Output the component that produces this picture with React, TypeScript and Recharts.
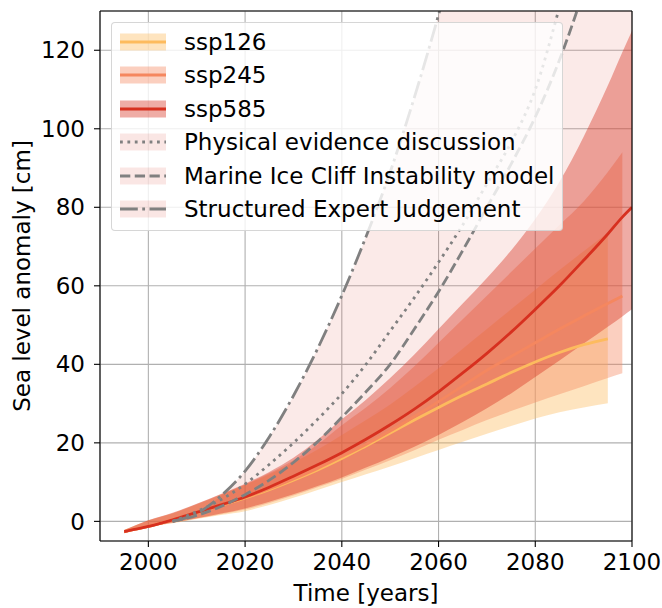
import React from 'react';
import { ComposedChart, Area, Line, XAxis, YAxis, CartesianGrid, ReferenceLine, Label } from 'recharts';

const FONT = "'DejaVu Sans', 'Liberation Sans', sans-serif";
const FS = 23;

const years = [1995, 2000, 2005, 2010, 2015, 2020, 2025, 2030, 2035, 2040, 2045, 2050, 2055, 2060, 2065, 2070, 2075, 2080, 2085, 2090, 2095, 2098, 2100];

const ssp126Median = [-2.6, -1.3, 0.4, 2.2, 4.1, 6, 8.1, 10.5, 13.1, 16, 19.2, 22.5, 25.8, 29, 32.1, 35, 37.9, 40.6, 43, 45, 46.5, null, null];
const ssp126Low = [-3, -1.4, -0.5, 0.6, 1.6, 2.6, 4.2, 6, 8, 10, 12, 14, 16.1, 18.2, 20.3, 22.3, 24.3, 26.2, 27.8, 29, 30.1, null, null];
const ssp126High = [-2.2, 0.2, 2, 4.3, 6.7, 9.3, 12, 15, 18.3, 22, 25.8, 29.8, 34.3, 39, 44, 49, 54, 59, 64, 68.8, 73.5, null, null];

const ssp245Median = [-2.6, -1.3, 0.4, 2.2, 4.1, 6.1, 8.3, 10.8, 13.5, 16.5, 19.6, 23, 26.7, 30.5, 34.5, 38.5, 42, 45.5, 49, 52.3, 55.5, 57.4, null];
const ssp245Low = [-3, -1.4, -0.4, 0.7, 1.8, 3, 4.7, 6.6, 8.7, 10.8, 13.2, 15.6, 18.1, 20.8, 23.3, 25.8, 28.1, 30.3, 32.4, 34.4, 36.5, 37.7, null];
const ssp245High = [-2.2, 0.3, 2.1, 4.4, 6.9, 9.4, 12.3, 15.6, 19.6, 24.5, 29, 34, 39.5, 45.5, 51.5, 57.5, 63.5, 69.5, 75.5, 81.5, 89, 94, null];

const ssp585Median = [-2.6, -1.3, 0.4, 2.3, 4.2, 6.2, 8.7, 11.5, 14.4, 17.5, 20.9, 24.6, 28.6, 33, 37.8, 42.8, 48.2, 54, 60, 66.5, 73.2, 77.5, 80];
const ssp585Low = [-3, -1.4, -0.3, 0.8, 2, 3.3, 5, 6.9, 9, 11.2, 13.7, 16.3, 19, 22, 25.3, 28.8, 32.6, 36.8, 41, 45.3, 49.6, 52.2, 54];
const ssp585High = [-2.2, 0.3, 2.2, 4.5, 7, 9.6, 12.6, 16.2, 20.8, 26, 31, 36.5, 42.5, 49, 55.5, 62, 69, 77, 86.5, 98, 111, 119.5, 125];

const physicalEvidence = [null, null, 0, 2.5, 5.5, 9.5, 14.5, 20, 26, 32.5, 40, 48.5, 57, 66, 75.5, 86, 96.5, 110, 131, 155, null, null, null];
const miciModel = [null, null, 0, 1.5, 3.8, 6.8, 10.5, 15, 20.3, 26.5, 33, 40, 49, 58.5, 69, 80, 91, 103, 117.5, 135, null, null, null];
const expertJudgement = [null, null, 0, 2, 6.5, 12.8, 21.5, 32, 44, 57.5, 72.5, 89, 108, 129, 152, null, null, null, null, null, null, null, null];
const expertRangeLow = [null, null, 0, 2.2, 4.2, 6.3, 8.7, 11.5, 14.4, 17.5, 20.9, 24.6, 28.6, 33, 37.8, 42.8, 48.2, 54, 60, 66.5, 73.2, 77.5, 80];
const expertRangeHigh = [null, null, 0, 2, 6.5, 12.8, 21.5, 32, 44, 57.5, 72.5, 89, 108, 129, 152, 175, 200, 200, 200, 200, 200, 200, 200];

const xTicks = [2000, 2020, 2040, 2060, 2080, 2100];
const yTicks = [0, 20, 40, 60, 80, 100, 120];

const C126 = '#fdbb5e';
const C245 = '#f5875f';
const C585 = '#d7301f';
const GRAY = '#808080';

const band = (lo: (number | null)[], hi: (number | null)[], i: number) =>
  lo[i] == null || hi[i] == null ? null : [lo[i], hi[i]];

const data = years.map((year, i) => ({
  year,
  ssp126: ssp126Median[i],
  ssp245: ssp245Median[i],
  ssp585: ssp585Median[i],
  ssp126Band: band(ssp126Low, ssp126High, i),
  ssp245Band: band(ssp245Low, ssp245High, i),
  ssp585Band: band(ssp585Low, ssp585High, i),
  expertBand: band(expertRangeLow, expertRangeHigh, i),
  physical: physicalEvidence[i],
  mici: miciModel[i],
  sej: expertJudgement[i],
}));

const legendItems = [
  { label: 'ssp126', line: C126, fill: C126, opacity: 0.4, dash: undefined as string | undefined },
  { label: 'ssp245', line: C245, fill: C245, opacity: 0.4, dash: undefined },
  { label: 'ssp585', line: C585, fill: C585, opacity: 0.4, dash: undefined },
  { label: 'Physical evidence discussion', line: GRAY, fill: C585, opacity: 0.12, dash: '2.8 4.6' },
  { label: 'Marine Ice Cliff Instability model', line: GRAY, fill: C585, opacity: 0.12, dash: '10.3 4.45' },
  { label: 'Structured Expert Judgement', line: GRAY, fill: C585, opacity: 0.12, dash: '17.8 4.45 2.8 4.45' },
];

const tickStyle = { fill: '#000', fontSize: FS, fontFamily: FONT };

export default function App() {
  return (
    <div style={{ position: 'absolute', left: 0, top: 0, width: 662, height: 608, background: '#fff', fontFamily: FONT }}>
      <ComposedChart width={662} height={608} data={data} margin={{ top: 11, right: 30, bottom: 0, left: 0 }}>
        <CartesianGrid stroke="#b0b0b0" strokeWidth={1.1} />
        <XAxis
          dataKey="year"
          type="number"
          domain={[1990, 2100]}
          ticks={xTicks}
          allowDataOverflow
          height={67}
          tick={tickStyle}
          tickSize={6}
          tickMargin={7}
          axisLine={{ stroke: '#000', strokeWidth: 1.1 }}
          tickLine={{ stroke: '#000', strokeWidth: 1.1 }}
        >
          <Label
            content={() => (
              <text x={366} y={601} textAnchor="middle" fontSize={FS} fontFamily={FONT} fill="#000">
                Time [years]
              </text>
            )}
          />
        </XAxis>
        <YAxis
          type="number"
          domain={[-5, 130]}
          ticks={yTicks}
          allowDataOverflow
          width={100}
          tick={tickStyle}
          tickSize={6}
          tickMargin={9}
          axisLine={{ stroke: '#000', strokeWidth: 1.1 }}
          tickLine={{ stroke: '#000', strokeWidth: 1.1 }}
        >
          <Label
            content={() => (
              <text
                x={30}
                y={276}
                transform="rotate(-90 30 276)"
                textAnchor="middle"
                fontSize={FS}
                fontFamily={FONT}
                fill="#000"
              >
                Sea level anomaly [cm]
              </text>
            )}
          />
        </YAxis>
        <Area dataKey="ssp126Band" type="monotone" fill={C126} fillOpacity={0.4} stroke="none" isAnimationActive={false} dot={false} activeDot={false} />
        <Area dataKey="ssp245Band" type="monotone" fill={C245} fillOpacity={0.4} stroke="none" isAnimationActive={false} dot={false} activeDot={false} />
        <Area dataKey="ssp585Band" type="monotone" fill={C585} fillOpacity={0.4} stroke="none" isAnimationActive={false} dot={false} activeDot={false} />
        <Area dataKey="expertBand" type="monotone" fill={C585} fillOpacity={0.1} stroke="none" isAnimationActive={false} dot={false} activeDot={false} />
        <Line dataKey="ssp126" type="monotone" stroke={C126} strokeWidth={2.8} dot={false} activeDot={false} isAnimationActive={false} />
        <Line dataKey="ssp245" type="monotone" stroke={C245} strokeWidth={2.8} dot={false} activeDot={false} isAnimationActive={false} />
        <Line dataKey="ssp585" type="monotone" stroke={C585} strokeWidth={2.8} dot={false} activeDot={false} isAnimationActive={false} />
        <Line dataKey="physical" type="monotone" stroke={GRAY} strokeWidth={2.8} strokeDasharray="2.8 4.6" dot={false} activeDot={false} isAnimationActive={false} />
        <Line dataKey="mici" type="monotone" stroke={GRAY} strokeWidth={2.8} strokeDasharray="10.3 4.45" dot={false} activeDot={false} isAnimationActive={false} />
        <Line dataKey="sej" type="monotone" stroke={GRAY} strokeWidth={2.8} strokeDasharray="17.8 4.45 2.8 4.45" dot={false} activeDot={false} isAnimationActive={false} />
        <ReferenceLine y={130} stroke="#000" strokeWidth={1.1} ifOverflow="visible" />
        <ReferenceLine x={2100} stroke="#000" strokeWidth={1.1} ifOverflow="visible" />
      </ComposedChart>
      <div
        style={{
          position: 'absolute',
          left: 111,
          top: 22,
          width: 452,
          height: 209,
          boxSizing: 'border-box',
          border: '1px solid rgba(204,204,204,0.8)',
          borderRadius: 4,
          background: 'rgba(255,255,255,0.8)',
        }}
      >
        {legendItems.map((it, i) => {
          const cy = 19.7 + 33.55 * i;
          return (
            <React.Fragment key={it.label}>
              <svg width={46} height={20} style={{ position: 'absolute', left: 8, top: cy - 10 - 1 }}>
                <rect x={0} y={1.5} width={46} height={17} fill={it.fill} fillOpacity={it.opacity} />
                <line x1={0} y1={10} x2={46} y2={10} stroke={it.line} strokeWidth={2.8} strokeDasharray={it.dash} />
              </svg>
              <div
                style={{
                  position: 'absolute',
                  left: 72,
                  top: cy - 14 - 1,
                  height: 28,
                  lineHeight: '28px',
                  fontSize: FS,
                  fontFamily: FONT,
                  color: '#000',
                  whiteSpace: 'nowrap',
                }}
              >
                {it.label}
              </div>
            </React.Fragment>
          );
        })}
      </div>
    </div>
  );
}
